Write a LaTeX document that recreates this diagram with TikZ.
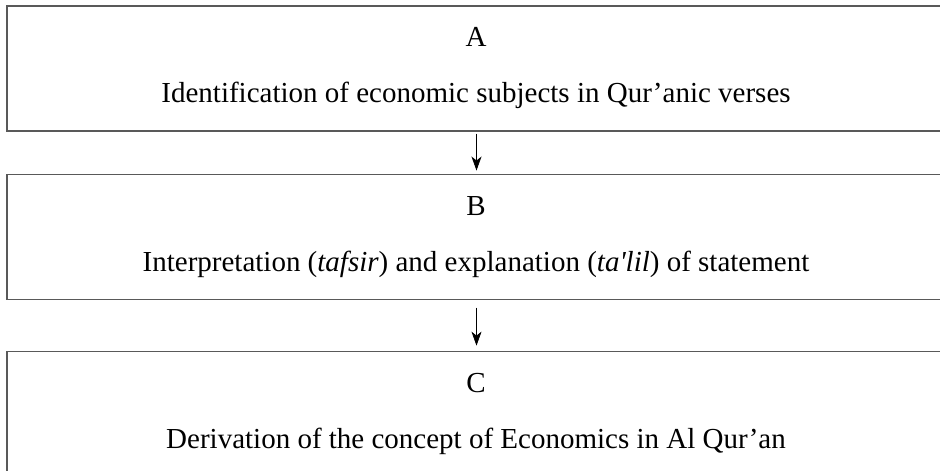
\documentclass[tikz,border=0pt]{standalone}
\usepackage{fontspec}
\setmainfont{Liberation Serif}
\usetikzlibrary{shapes,arrows.meta,positioning}

\begin{document}
\begin{tikzpicture}[
    x=1pt, y=-1pt,
    stage/.style={rectangle, draw=black!65, line width=1.1pt, minimum width=938pt, minimum height=125pt, align=center, inner sep=0pt},
    arrow/.style={draw, -{Stealth[length=14pt,width=10pt,inset=4pt]}, line width=0.8pt},
]

  \tikzset{
    font={\fontsize{29pt}{56pt}\selectfont}
  }
\clip (0,0) rectangle (940,471);
% Nodes
\node[stage] (identify) at (476,68.5) {A\\Identification of economic subjects in Qur’anic verses};
\node[stage, below=42pt of identify] (interpret) {B\\Interpretation (\textit{tafsir}) and explanation (\textit{ta\textquotesingle lil}) of statement};
\node[stage, below=51pt of interpret] (derive) {C\\Derivation of the concept of Economics in Al Qur’an};

% Lines
\path (identify.south) ++(0.5pt,0) coordinate (a1) (interpret.north) ++(0.5pt,0) coordinate (b1);
\path (interpret.south) ++(0.5pt,0) coordinate (b2) (derive.north) ++(0.5pt,0) coordinate (c1);
\draw[arrow, shorten <=2pt, shorten >=3pt] (a1) -- (b1);
\draw[arrow, shorten <=8pt, shorten >=5pt] (b2) -- (c1);

\end{tikzpicture}
\end{document}
